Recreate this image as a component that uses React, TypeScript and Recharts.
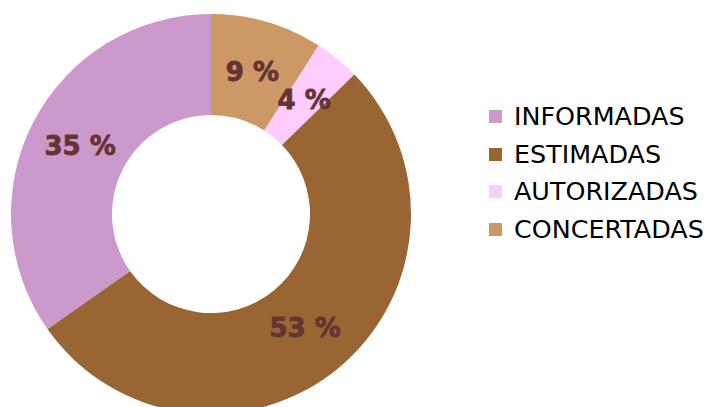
import React from "react";
import { PieChart, Pie, Cell, Legend } from "recharts";

const categories = ["CONCERTADAS", "AUTORIZADAS", "ESTIMADAS", "INFORMADAS"];
const values = [9.05, 3.67, 52.5, 34.75];
const labels = ["9 %", "4 %", "53 %", "35 %"];
const colors = ["#CC9966", "#FFCCFF", "#996633", "#CC99CC"];
const legendOrder = ["INFORMADAS", "ESTIMADAS", "AUTORIZADAS", "CONCERTADAS"];

const data = categories.map((name, i) => ({ name, value: values[i], label: labels[i], color: colors[i] }));

const RADIAN = Math.PI / 180;

const renderLabel = (props: any) => {
  const { cx, cy, midAngle, innerRadius, outerRadius, index } = props;
  const r = (innerRadius + outerRadius) / 2 - 2;
  const x = cx + r * Math.cos(-midAngle * RADIAN);
  const y = cy + r * Math.sin(-midAngle * RADIAN);
  return (
    <text
      x={x}
      y={y}
      fill="#663333"
      stroke="#663333"
      strokeWidth={0.8}
      textAnchor="middle"
      dominantBaseline="central"
      style={{ fontFamily: "DejaVu Sans", fontWeight: "bold", fontSize: 26 }}
    >
      {labels[index]}
    </text>
  );
};

const renderLegend = () => (
  <div style={{ fontFamily: "DejaVu Sans", fontSize: 25.4, color: "#000" }}>
    {legendOrder.map((name) => {
      const i = categories.indexOf(name);
      return (
        <div key={name} style={{ display: "flex", alignItems: "center", height: 37.5 }}>
          <div style={{ width: 13, height: 13, background: colors[i], marginRight: 12 }} />
          <span style={{ lineHeight: "37.5px" }}>{name}</span>
        </div>
      );
    })}
  </div>
);

export default function App() {
  return (
    <div style={{ position: "absolute", left: 0, top: 0 }}>
      <PieChart width={710} height={407} margin={{ top: 0, right: 0, bottom: 0, left: 0 }}>
        <Pie
          data={data}
          dataKey="value"
          nameKey="name"
          cx={211}
          cy={214}
          outerRadius={200}
          innerRadius={99}
          startAngle={90}
          endAngle={-270}
          stroke="none"
          label={renderLabel}
          labelLine={false}
          isAnimationActive={false}
        >
          {data.map((d) => (
            <Cell key={d.name} fill={d.color} />
          ))}
        </Pie>
        <Legend
          content={renderLegend}
          layout="vertical"
          wrapperStyle={{ position: "absolute", left: 489, top: 98, width: 221 }}
        />
      </PieChart>
    </div>
  );
}
